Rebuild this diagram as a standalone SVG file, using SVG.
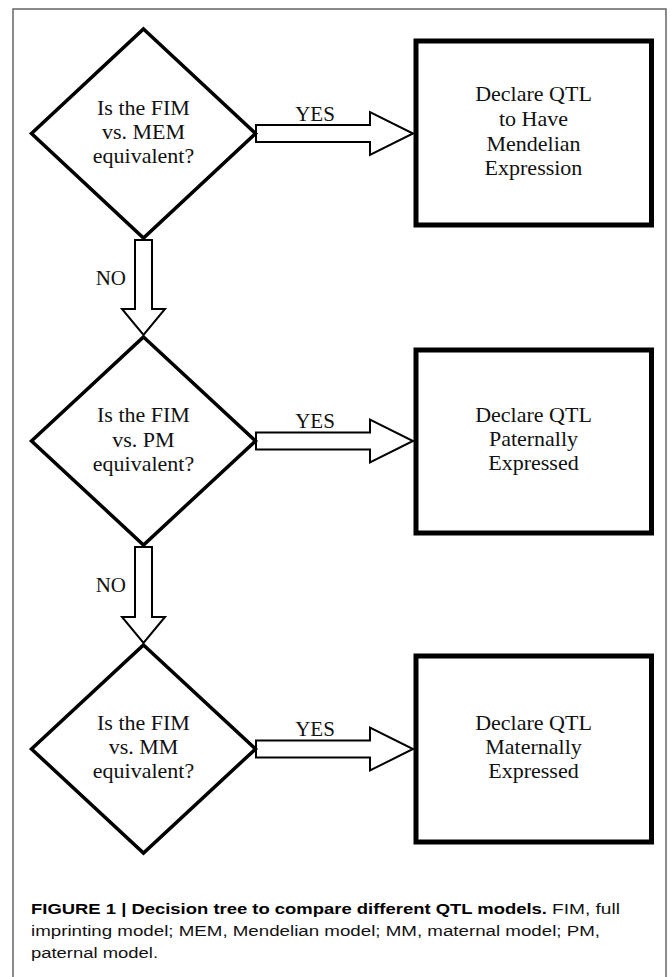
<svg xmlns="http://www.w3.org/2000/svg" width="670" height="977" viewBox="0 0 670 977">
<style>
.frame{fill:none;stroke:#666;stroke-width:1.5}
.dia{fill:#fff;stroke:#000;stroke-width:3.5;stroke-linejoin:miter}
.box{fill:#fff;stroke:#000;stroke-width:5}
.arr{fill:#fff;stroke:#000;stroke-width:2;stroke-linejoin:miter}
.t{font-family:"Liberation Serif","Times New Roman",serif;font-size:22px;fill:#111;text-anchor:middle}
.lab{font-family:"Liberation Serif","Times New Roman",serif;font-size:21px;fill:#111}
.cap{font-family:"Liberation Sans",Arial,sans-serif;font-size:15.5px;fill:#111}
.capb{font-family:"Liberation Sans",Arial,sans-serif;font-size:15.5px;font-weight:bold;fill:#000}
</style>
<rect width="670" height="977" fill="#fff"/>
<path class="frame" d="M13,977 V9 H666 V977"/>
<g id="connectors">
<polygon class="arr" points="256,125 370,125 370,112 413,133.5 370,155 370,142 256,142"/>
<polygon class="arr" points="256,432.5 370,432.5 370,419.5 413,441 370,462.5 370,449.5 256,449.5"/>
<polygon class="arr" points="256,740.5 370,740.5 370,727.5 413,749 370,770.5 370,757.5 256,757.5"/>
<polygon class="arr" points="135,240 152,240 152,309 165,309 143.5,335 122,309 135,309"/>
<polygon class="arr" points="135,547 152,547 152,617 165,617 143.5,643 122,617 135,617"/>
<text class="lab" x="315" y="120.5" text-anchor="middle">YES</text>
<text class="lab" x="315" y="428" text-anchor="middle">YES</text>
<text class="lab" x="315" y="736" text-anchor="middle">YES</text>
<text class="lab" x="126" y="285" text-anchor="end">NO</text>
<text class="lab" x="126" y="592" text-anchor="end">NO</text>
</g>
<g id="q1">
<polygon class="dia" points="143.5,29 255.5,133.5 143.5,238 31.5,133.5"/>
<text class="t" x="143.5" y="114.5">Is the FIM</text>
<text class="t" x="143.5" y="139">vs. MEM</text>
<text class="t" x="143.5" y="163">equivalent?</text>
</g>
<g id="r1">
<rect class="box" x="416" y="41" width="235.5" height="184"/>
<text class="t" x="533.5" y="101">Declare QTL</text>
<text class="t" x="533.5" y="126">to Have</text>
<text class="t" x="533.5" y="150.5">Mendelian</text>
<text class="t" x="533.5" y="175">Expression</text>
</g>
<g id="q2">
<polygon class="dia" points="143.5,337 255.5,441 143.5,545 31.5,441"/>
<text class="t" x="143.5" y="422">Is the FIM</text>
<text class="t" x="143.5" y="446.5">vs. PM</text>
<text class="t" x="143.5" y="470.5">equivalent?</text>
</g>
<g id="r2">
<rect class="box" x="416" y="350" width="235.5" height="183"/>
<text class="t" x="533.5" y="421.5">Declare QTL</text>
<text class="t" x="533.5" y="445.5">Paternally</text>
<text class="t" x="533.5" y="470">Expressed</text>
</g>
<g id="q3">
<polygon class="dia" points="143.5,645 255.5,749 143.5,853 31.5,749"/>
<text class="t" x="143.5" y="729.5">Is the FIM</text>
<text class="t" x="143.5" y="754">vs. MM</text>
<text class="t" x="143.5" y="778">equivalent?</text>
</g>
<g id="r3">
<rect class="box" x="416" y="656" width="235.5" height="186"/>
<text class="t" x="533.5" y="729.5">Declare QTL</text>
<text class="t" x="533.5" y="753.5">Maternally</text>
<text class="t" x="533.5" y="778">Expressed</text>
</g>
<g id="caption">
<text class="capb" x="31" y="914" textLength="516" lengthAdjust="spacingAndGlyphs">FIGURE 1 | Decision tree to compare different QTL models.</text>
<text class="cap" x="552" y="914" textLength="68" lengthAdjust="spacingAndGlyphs">FIM, full</text>
<text class="cap" x="31" y="936" textLength="569" lengthAdjust="spacingAndGlyphs">imprinting model; MEM, Mendelian model; MM, maternal model; PM,</text>
<text class="cap" x="31" y="958" textLength="127" lengthAdjust="spacingAndGlyphs">paternal model.</text>
</g>
</svg>
